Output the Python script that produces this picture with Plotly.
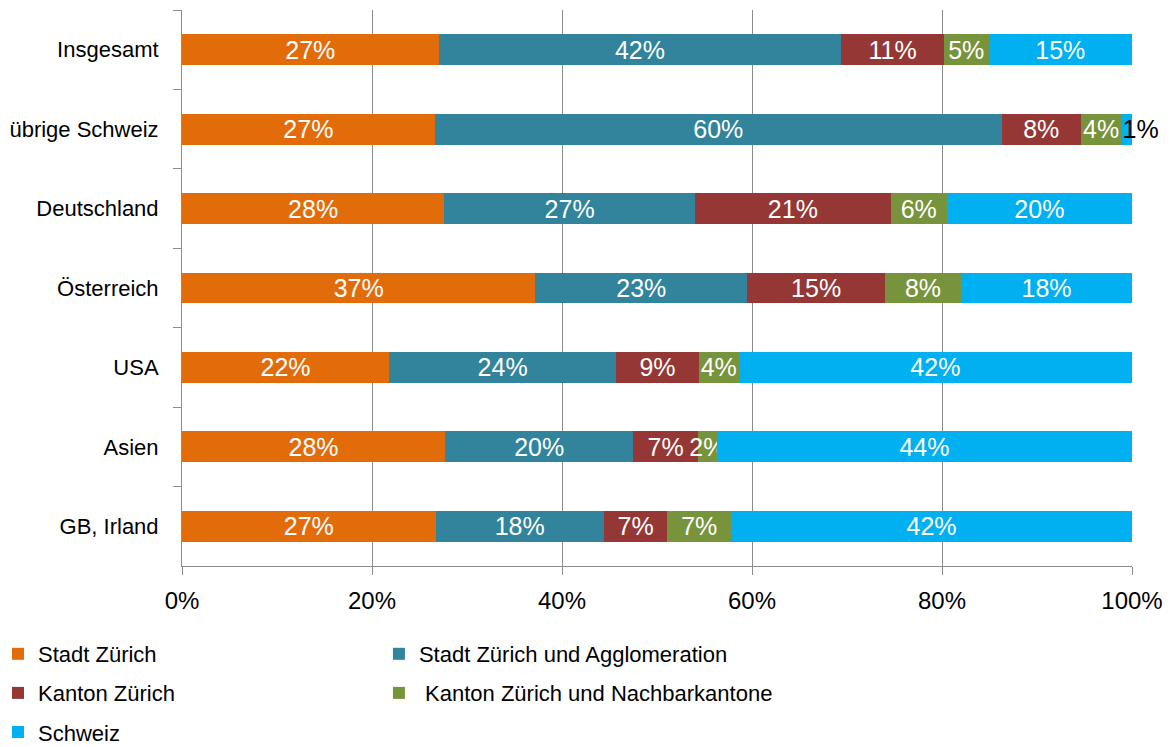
import plotly.graph_objects as go

categories = ["Insgesamt", "übrige Schweiz", "Deutschland", "Österreich", "USA", "Asien", "GB, Irland"]
series_names = ["Stadt Zürich", "Stadt Zürich und Agglomeration", "Kanton Zürich",
                "\u00a0Kanton Zürich und Nachbarkantone", "Schweiz"]
colors = ["#E36C0A", "#31849B", "#953735", "#77933C", "#00B0F0"]

stadt = [27.0, 26.6, 27.6, 37.2, 21.8, 27.7, 26.7]
agglo = [42.4, 59.7, 26.4, 22.3, 23.9, 19.8, 17.7]
kanton = [10.8, 8.3, 20.6, 14.5, 8.7, 6.8, 6.7]
nachbar = [4.7, 4.3, 5.9, 8.0, 4.2, 2.0, 6.7]
schweiz = [15.1, 1.1, 19.5, 18.0, 41.4, 43.7, 42.2]

labels_stadt = ["27%", "27%", "28%", "37%", "22%", "28%", "27%"]
labels_agglo = ["42%", "60%", "27%", "23%", "24%", "20%", "18%"]
labels_kanton = ["11%", "8%", "21%", "15%", "9%", "7%", "7%"]
labels_nachbar = ["5%", "4%", "6%", "8%", "4%", "2%", "7%"]
labels_schweiz = ["15%", "1%", "20%", "18%", "42%", "44%", "42%"]

x_tickvals = [0, 20, 40, 60, 80, 100]
x_ticktext = ["0%", "20%", "40%", "60%", "80%", "100%"]

values = [stadt, agglo, kanton, nachbar, schweiz]
labels = [labels_stadt, labels_agglo, labels_kanton, labels_nachbar, labels_schweiz]
legends = ["legend", "legend2", "legend", "legend2", "legend"]

FONT = "Liberation Sans, Arial, sans-serif"

fig = go.Figure()
for i in range(5):
    vals = values[i]
    # tiny last segments: label drawn in black, spilling past the bar end
    small = [(i == 4 and v < 3) for v in vals]
    ttemp = ["\u00a0\u00a0\u00a0\u00a0%{text}" if s else "%{text}" for s in small]
    tcol = ["black" if s else "white" for s in small]
    fig.add_trace(go.Bar(
        y=categories, x=vals, name=series_names[i], orientation="h",
        marker=dict(color=colors[i], line=dict(width=0)),
        text=labels[i], textposition="inside", texttemplate=ttemp,
        insidetextanchor="middle", constraintext="none", textangle=0,
        insidetextfont=dict(color=tcol, size=25, family=FONT),
        cliponaxis=False, legend=legends[i], legendgroup="g%d" % i,
    ))

legend_common = dict(orientation="v", xanchor="left", yanchor="top",
                     font=dict(size=22, family=FONT, color="#000000"),
                     bgcolor="rgba(0,0,0,0)", tracegroupgap=7.5, traceorder="grouped")

fig.update_layout(
    width=1165, height=739,
    margin=dict(l=174, r=41, t=2, b=181, autoexpand=False),
    barmode="stack", bargap=0.61,
    plot_bgcolor="white", paper_bgcolor="white",
    font=dict(family=FONT, color="#000000"),
    xaxis=dict(range=[0, 100], tickmode="array", tickvals=x_tickvals, ticktext=x_ticktext,
               showgrid=True, gridcolor="#8C8C8C", gridwidth=1,
               showline=True, linecolor="#8C8C8C", linewidth=1,
               ticks="outside", ticklen=8, tickcolor="#8C8C8C",
               tickfont=dict(size=24, family=FONT, color="#000000"),
               ticklabelstandoff=5, zeroline=False, fixedrange=True),
    yaxis=dict(autorange="reversed", showline=True, linecolor="#8C8C8C", linewidth=1,
               ticks="outside", ticklen=8, tickcolor="#8C8C8C", tickson="boundaries",
               tickfont=dict(size=22, family=FONT, color="#000000"),
               ticklabelstandoff=18, showgrid=False, fixedrange=True),
    legend=dict(x=-0.1937, y=-0.1205, **legend_common),
    legend2=dict(x=0.2073, y=-0.1205, **legend_common),
)

fig.write_html("out.html")
